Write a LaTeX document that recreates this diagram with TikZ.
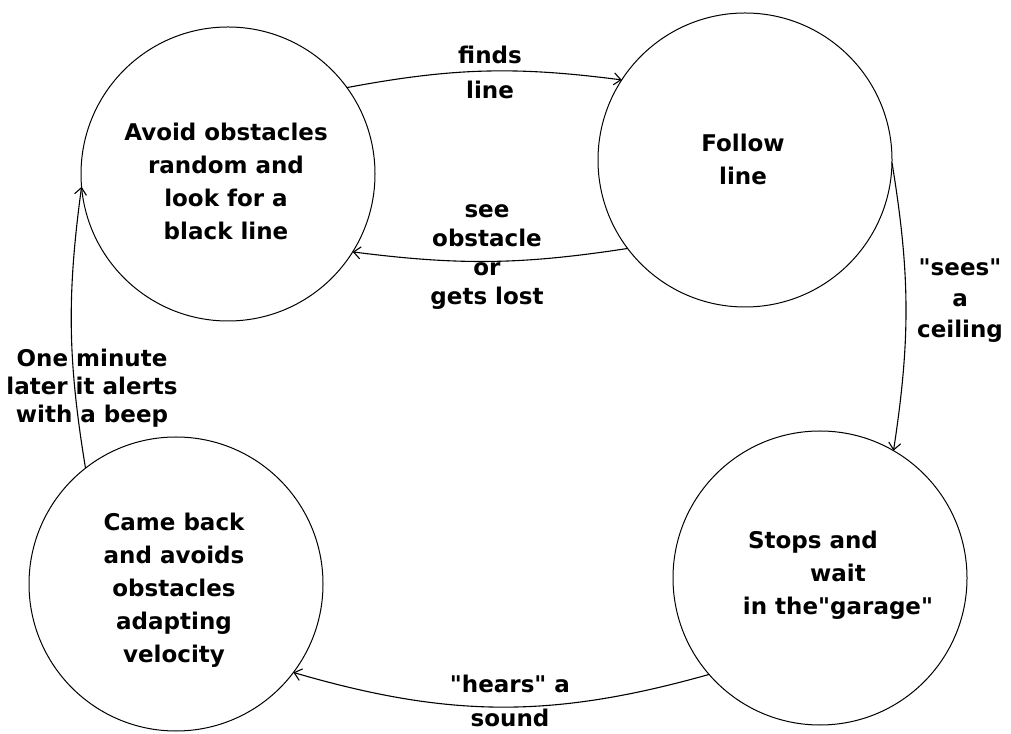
\documentclass[tikz,border=0pt]{standalone}
\usepackage{fontspec}
\setmainfont{DejaVu Sans}[Ligatures=TeXOff]
\usetikzlibrary{arrows.meta}
\begin{document}
\begin{tikzpicture}[x=1pt,y=1pt,
  state/.style={circle,draw,line width=1pt,minimum size=294pt,inner sep=0pt,outer sep=0pt},
  txt/.style={align=center,inner sep=0pt,font=\fontsize{23}{33}\selectfont\bfseries},
  lbl/.style={align=center,inner sep=0pt,font=\fontsize{23}{#1}\selectfont\bfseries},
  conn/.style={line width=1.1pt,-{Straight Barb[length=7pt,width=12pt]}}]
\useasboundingbox[fill=white] (0,0) rectangle (1011,733);
% states
\node[state] (s1) at (228,559) {};
\node[state] (s2) at (745,573) {};
\node[state] (s3) at (820,155) {};
\node[state] (s4) at (176,149) {};
% state texts
\node[txt] (t1) at (226,552) {Avoid obstacles\\random and\\look for a\\black line};
\node[txt] (t2) at (743,574) {Follow\\line};
\node[txt] (t3) at (838,158) {Stops and\hspace*{50pt}\\wait\hspace*{32pt}\\in the"garage"};
\node[txt] (t4) at (174,143) {Came back\\and avoids\\obstacles\\adapting\\velocity};
% connectors
\draw[conn] (s1.36.9) to[bend left=9] (s2.147.6);
\draw[conn] (s2.217.9) to[bend left=8] (s1.-32.3);
\draw[conn] (s2.-1) to[bend left=9] (s3.60.7);
\draw[conn] (s3.221.3) to[bend left=16] (s4.-37.3);
\draw[conn] (s4.128.7) to[bend left=8.5] (s1.185);
% labels
\node[lbl=35] (l1) at (490,661) {finds\\line};
\node[lbl=29] (l2) at (487,476) {see\\obstacle\\or\\gets lost};
\node[lbl=31] (l3) at (960,432) {"sees"\\a\\ceiling};
\node[lbl=34] (l4) at (510,32) {"hears" a\\sound};
\node[lbl=28] (l5) at (92,345) {One minute\\later it alerts\\with a beep};
\end{tikzpicture}
\end{document}
